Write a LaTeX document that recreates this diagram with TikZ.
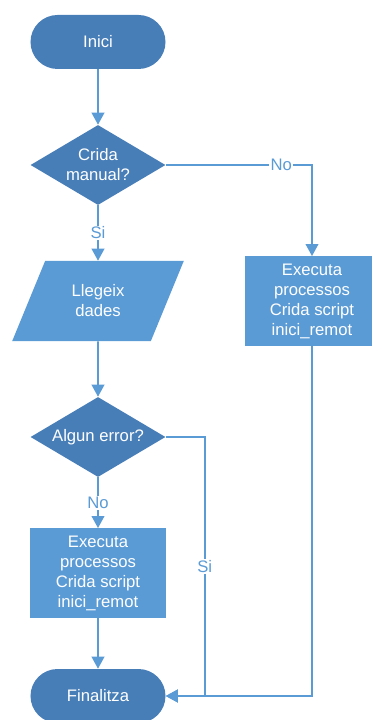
\documentclass[tikz,border=0pt]{standalone}
\usepackage{fontspec}
\setmainfont{Liberation Sans}
\usetikzlibrary{shapes.geometric,arrows.meta,positioning}
\definecolor{darkblue}{RGB}{72,126,184}
\definecolor{lightblue}{RGB}{91,155,213}

\begin{document}
\begin{tikzpicture}[node distance=102pt, >={Triangle[length=9pt,width=9.5pt]},
    font=\fontsize{12.5pt}{15pt}\selectfont,
    term/.style={rectangle, rounded corners=20.25pt, fill=darkblue, text=white,
      minimum width=101.25pt, minimum height=40.5pt},
    decision/.style={diamond, aspect=1.7, fill=darkblue, text=white, inner sep=0pt,
      minimum width=101.25pt, minimum height=60pt, align=center},
    io/.style={trapezium, trapezium left angle=65, trapezium right angle=115,
      trapezium stretches=true, fill=lightblue, text=white,
      minimum width=129pt, minimum height=60pt, align=center},
    process/.style={rectangle, fill=lightblue, text=white,
      minimum width=101.25pt, minimum height=67pt, align=center},
    line/.style={draw=lightblue, line width=1.2pt},
    lbl/.style={fill=white, text=lightblue, inner sep=1pt}]
    \useasboundingbox (-73.5pt,31.5pt) rectangle (204.75pt,-508.5pt);

    \node [term] (inici) {Inici};
    \node [decision, below of=inici, node distance=92.25pt] (crida) {Crida\\manual?};
    \node [io, below of=crida] (llegeix) {Llegeix\\dades};
    \node [process, right of=llegeix, node distance=160.5pt] (exec1) {Executa\\processos\\Crida script\\inici\_remot};
    \node [decision, below of=llegeix] (error) {Algun error?};
    \node [process, below of=error] (exec2) {Executa\\processos\\Crida script\\inici\_remot};
    \node [term, below of=exec2, node distance=92.25pt] (fin) {Finalitza};

    \draw [line, ->] (inici) -- (crida);
    \draw [line, ->] (crida) -- node [lbl] {Si} (llegeix);
    \draw [line, ->] (crida.east) -| node [lbl, pos=0.395] {No} (exec1.north);
    \draw [line, ->] (llegeix) -- (error);
    \draw [line, ->] (error) -- node [lbl] {No} (exec2);
    \draw [line, ->] (exec2) -- (fin);
    \draw [line, ->] (error.east) -- ++(29.25pt,0) |- node [lbl, pos=0.25] {Si} (fin.east);
    \draw [line, ->] (exec1.south) |- (fin.east);
\end{tikzpicture}
\end{document}
